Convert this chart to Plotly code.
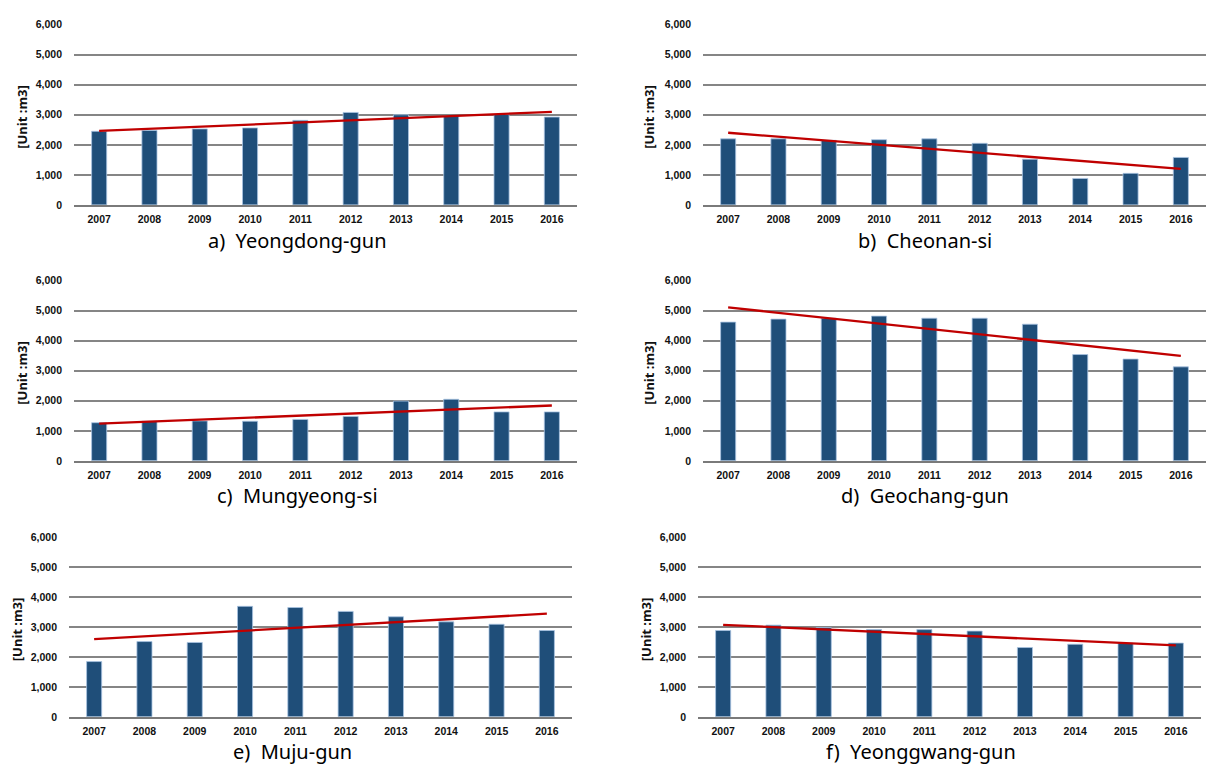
import numpy as np
import plotly.graph_objects as go

W, H = 1226, 775

years = ["2007", "2008", "2009", "2010", "2011", "2012", "2013", "2014", "2015", "2016"]

yeongdong = [2450, 2480, 2530, 2563, 2815, 3078, 3000, 2960, 3010, 2924]
cheonan = [2200, 2200, 2150, 2170, 2200, 2050, 1520, 880, 1050, 1580]
mungyeong = [1270, 1320, 1330, 1320, 1380, 1480, 1990, 2050, 1630, 1630]
geochang = [4620, 4720, 4750, 4820, 4750, 4750, 4550, 3540, 3390, 3130]
muju = [1850, 2520, 2490, 3700, 3660, 3530, 3350, 3180, 3100, 2890]
yeonggwang = [2890, 3070, 2990, 2920, 2920, 2870, 2320, 2430, 2470, 2470]

panel_titles = ["a)  Yeongdong-gun", "b)  Cheonan-si", "c)  Mungyeong-si",
                "d)  Geochang-gun", "e)  Muju-gun", "f)  Yeonggwang-gun"]
series = [yeongdong, cheonan, mungyeong, geochang, muju, yeonggwang]

y_ticks = [0, 1000, 2000, 3000, 4000, 5000, 6000]
y_title = "[Unit :m3]"

# panel boxes in pixels: x0, x1, y0(top), y1(bottom)
boxes = [
    (74, 577, 19, 202),
    (703, 1206, 19, 202),
    (74, 577, 279, 462),
    (703, 1206, 279, 462),
    (69, 572, 540, 722),
    (698, 1201, 540, 722),
]
ytitle_x = [22, 649, 22, 649, 17, 646]
title_pos = [(297, 238), (925, 238), (297, 497), (925, 497), (292, 757), (921, 757)]

BAR = "#1F4E79"
RED = "#C00000"
GRID = "#858585"
TICKFONT = dict(family="Liberation Sans, Arial, sans-serif", size=10.5, color="#111111", weight="bold")

fig = go.Figure()
annotations = []
layout = {}

for i, (vals, box) in enumerate(zip(series, boxes)):
    n = i + 1
    xa = "x" if n == 1 else f"x{n}"
    ya = "y" if n == 1 else f"y{n}"
    x0, x1, yt, yb = box
    fig.add_trace(go.Bar(
        x=years, y=vals, xaxis=xa, yaxis=ya, width=0.30,
        marker=dict(color=BAR, line=dict(color="#A9C4E2", width=0.8)),
        showlegend=False, hoverinfo="x+y"))
    # linear trendline (least squares, like the spreadsheet trendline)
    idx = np.arange(len(vals))
    slope, icpt = np.polyfit(idx, np.array(vals, dtype=float), 1)
    trend = [icpt + slope * idx[0], icpt + slope * idx[-1]]
    fig.add_trace(go.Scatter(
        x=[years[0], years[-1]], y=trend, xaxis=xa, yaxis=ya, mode="lines",
        line=dict(color=RED, width=2.3), showlegend=False, hoverinfo="skip"))

    xkey = "xaxis" if n == 1 else f"xaxis{n}"
    ykey = "yaxis" if n == 1 else f"yaxis{n}"
    layout[xkey] = dict(
        domain=[x0 / W, x1 / W], anchor=ya, type="category",
        categoryorder="array", categoryarray=years, range=[-0.5, 9.5],
        showgrid=False, showline=True, linecolor="#7A7A7A", linewidth=1.6,
        ticks="", tickfont=TICKFONT, ticklabelstandoff=4, fixedrange=True)
    layout[ykey] = dict(
        domain=[1 - yb / H, 1 - yt / H], anchor=xa, range=[0, 6000],
        tickvals=y_ticks, tickformat=",", showgrid=True, gridcolor=GRID,
        gridwidth=1.5, zeroline=False, showline=False, ticks="",
        tickfont=TICKFONT, ticklabelstandoff=11, fixedrange=True)

    # y-axis title
    annotations.append(dict(
        x=ytitle_x[i] / W, y=1 - ((yt + yb) / 2 + 2) / H, xref="paper", yref="paper",
        text=y_title, textangle=-90, showarrow=False, xanchor="center", yanchor="middle",
        font=dict(family="Noto Sans, sans-serif", size=13, color="#111111", weight="bold")))
    # panel subtitle
    tx, ty = title_pos[i]
    annotations.append(dict(
        x=tx / W, y=1 - ty / H, xref="paper", yref="paper", text=panel_titles[i],
        showarrow=False, xanchor="center", yanchor="middle",
        font=dict(family="Noto Sans, sans-serif", size=20, color="#000000")))

fig.update_layout(
    width=W, height=H, margin=dict(l=0, r=0, t=0, b=0),
    paper_bgcolor="white", plot_bgcolor="white",
    annotations=annotations, **layout)

fig.write_html("out.html")
